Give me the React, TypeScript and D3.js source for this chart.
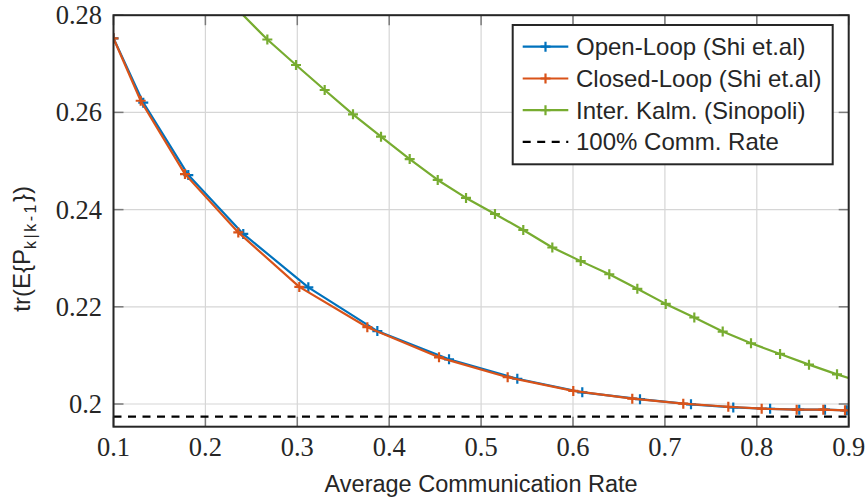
import React from "react";
import * as d3 from "d3";

// Average communication rate (x) and trace of the expected error covariance (y)
const openLoopRate = [0.1, 0.1324, 0.1814, 0.2412, 0.312, 0.3871, 0.4651, 0.5394, 0.6101, 0.6729, 0.7284, 0.7744, 0.8145, 0.8462, 0.8742, 0.8978];
const openLoopTrace = [0.27525, 0.262, 0.2471, 0.235, 0.224, 0.215, 0.2092, 0.2052, 0.2024, 0.201, 0.19994, 0.1993, 0.199, 0.19883, 0.19883, 0.1987];

const closedLoopRate = [0.1, 0.1296, 0.1778, 0.2358, 0.3022, 0.3762, 0.4542, 0.5289, 0.6003, 0.6645, 0.72, 0.769, 0.8053, 0.8434, 0.8724, 0.896];
const closedLoopTrace = [0.27525, 0.2624, 0.2473, 0.2353, 0.2241, 0.2158, 0.2096, 0.2055, 0.2027, 0.2011, 0.20006, 0.19944, 0.19903, 0.19883, 0.19883, 0.1987];

const interKalmanRate = [0.2364, 0.2674, 0.2986, 0.3298, 0.3606, 0.3911, 0.4223, 0.4528, 0.4836, 0.5151, 0.5459, 0.5775, 0.6084, 0.6395, 0.67, 0.7009, 0.732, 0.7629, 0.7937, 0.8253, 0.8568, 0.8873, 0.9183];
const interKalmanTrace = [0.2809, 0.275, 0.26975, 0.26461, 0.25961, 0.255, 0.2504, 0.2461, 0.2424, 0.2391, 0.2358, 0.2322, 0.2294, 0.2267, 0.2237, 0.2206, 0.2178, 0.2149, 0.2125, 0.2103, 0.2081, 0.2061, 0.2043];

const fullRateTrace = 0.1974;

const xTicks = [0.1, 0.2, 0.3, 0.4, 0.5, 0.6, 0.7, 0.8, 0.9];
const xTickLabels = ["0.1", "0.2", "0.3", "0.4", "0.5", "0.6", "0.7", "0.8", "0.9"];
const yTicks = [0.2, 0.22, 0.24, 0.26, 0.28];
const yTickLabels = ["0.2", "0.22", "0.24", "0.26", "0.28"];

const seriesNames = ["Open-Loop (Shi et.al)", "Closed-Loop (Shi et.al)", "Inter. Kalm. (Sinopoli)", "100% Comm. Rate"];
const seriesColors = ["#0072BD", "#D95319", "#77AC30", "#000000"];

const W = 867;
const H = 499;
const left = 113.5;
const right = 848.7;
const top = 15.2;
const bottom = 426.7;

const x = d3.scaleLinear().domain([0.1, 0.9]).range([left, right]);
const y = d3.scaleLinear().domain([0.19533, 0.28]).range([bottom, top]);

const axisColor = "#262626";
const serif = "'Liberation Serif', 'Times New Roman', serif";
const sans = "'Liberation Sans', Arial, sans-serif";
const markerSize = 5;

function plusPath(cx: number, cy: number, r: number) {
  return `M${cx - r},${cy}H${cx + r}M${cx},${cy - r}V${cy + r}`;
}

function Series({ xs, ys, color }: { xs: number[]; ys: number[]; color: string }) {
  const pts = xs.map((v, i) => [v, ys[i]] as [number, number]);
  const line = d3.line<[number, number]>().x((d) => x(d[0])).y((d) => y(d[1]));
  return (
    <g>
      <path d={line(pts) || ""} fill="none" stroke={color} strokeWidth={2.2} strokeLinejoin="round" />
      <path
        d={pts.map((d) => plusPath(x(d[0]), y(d[1]), markerSize)).join("")}
        fill="none"
        stroke={color}
        strokeWidth={2.2}
      />
    </g>
  );
}

export default function App() {
  const legendX = 512.7;
  const legendY = 25;
  const legendW = 320;
  const legendH = 139.3;
  const rowY = [46.7, 78.5, 110.2, 141.8];

  return (
    <svg width={W} height={H} style={{ position: "absolute", left: 0, top: 0, background: "#fff" }}>
      <defs>
        <clipPath id="plotClip">
          <rect x={left} y={top} width={right - left} height={bottom - top} />
        </clipPath>
      </defs>
      <rect x={0} y={0} width={W} height={H} fill="#fff" />

      {/* grid */}
      <g stroke="#d6d6d6" strokeWidth={1.2}>
        {xTicks.map((t) => (
          <line key={"gx" + t} x1={x(t)} x2={x(t)} y1={top} y2={bottom} />
        ))}
        {yTicks.map((t) => (
          <line key={"gy" + t} x1={left} x2={right} y1={y(t)} y2={y(t)} />
        ))}
      </g>

      {/* ticks, inward on all four sides */}
      <g stroke="#7a7a7a" strokeWidth={1.5}>
        {xTicks.map((t) => (
          <g key={"tx" + t}>
            <line x1={x(t)} x2={x(t)} y1={bottom} y2={bottom - 10} />
            <line x1={x(t)} x2={x(t)} y1={top} y2={top + 10} />
          </g>
        ))}
        {yTicks.map((t) => (
          <g key={"ty" + t}>
            <line x1={left} x2={left + 10} y1={y(t)} y2={y(t)} />
            <line x1={right} x2={right - 10} y1={y(t)} y2={y(t)} />
          </g>
        ))}
      </g>

      <g clipPath="url(#plotClip)">
        <Series xs={openLoopRate} ys={openLoopTrace} color={seriesColors[0]} />
        <Series xs={closedLoopRate} ys={closedLoopTrace} color={seriesColors[1]} />
        <Series xs={interKalmanRate} ys={interKalmanTrace} color={seriesColors[2]} />
        <line
          x1={x(0.1)}
          x2={x(0.9)}
          y1={y(fullRateTrace)}
          y2={y(fullRateTrace)}
          stroke={seriesColors[3]}
          strokeWidth={2.3}
          strokeDasharray="8,6.5"
        />
      </g>

      {/* axes box */}
      <rect x={left} y={top} width={right - left} height={bottom - top} fill="none" stroke={axisColor} strokeWidth={2} />

      {/* tick labels */}
      <g fill={axisColor} fontFamily={serif} fontSize={26.5}>
        {xTicks.map((t, i) => (
          <text key={"lx" + t} x={x(t)} y={456} textAnchor="middle">
            {xTickLabels[i]}
          </text>
        ))}
        {yTicks.map((t, i) => (
          <text key={"ly" + t} x={102} y={y(t) + 9} textAnchor="end">
            {yTickLabels[i]}
          </text>
        ))}
      </g>

      {/* axis titles */}
      <text x={(left + right) / 2} y={492} textAnchor="middle" fontFamily={sans} fontSize={23.5} fill={axisColor}>
        Average Communication Rate
      </text>
      <text
        transform="translate(30,311.7) rotate(-90)"
        fontFamily={sans}
        fontSize={24}
        fill={axisColor}
      >
        tr(E{"{"}P
        <tspan fontSize={16} dy={6} letterSpacing={2.5}>k|k-1</tspan>
        <tspan dy={-6}>{"})"}</tspan>
      </text>

      {/* legend */}
      <g>
        <rect x={legendX} y={legendY} width={legendW} height={legendH} fill="#fff" stroke={axisColor} strokeWidth={2} />
        {seriesNames.map((name, i) => (
          <g key={name}>
            <line
              x1={522.7}
              x2={568.3}
              y1={rowY[i]}
              y2={rowY[i]}
              stroke={seriesColors[i]}
              strokeWidth={2.2}
              strokeDasharray={i === 3 ? "8,6.5" : undefined}
            />
            {i < 3 && (
              <path d={plusPath(545.5, rowY[i], markerSize)} stroke={seriesColors[i]} strokeWidth={2.2} fill="none" />
            )}
            <text x={576} y={rowY[i] + 8.5} fontFamily={sans} fontSize={24} fill={axisColor}>
              {name}
            </text>
          </g>
        ))}
      </g>
    </svg>
  );
}
